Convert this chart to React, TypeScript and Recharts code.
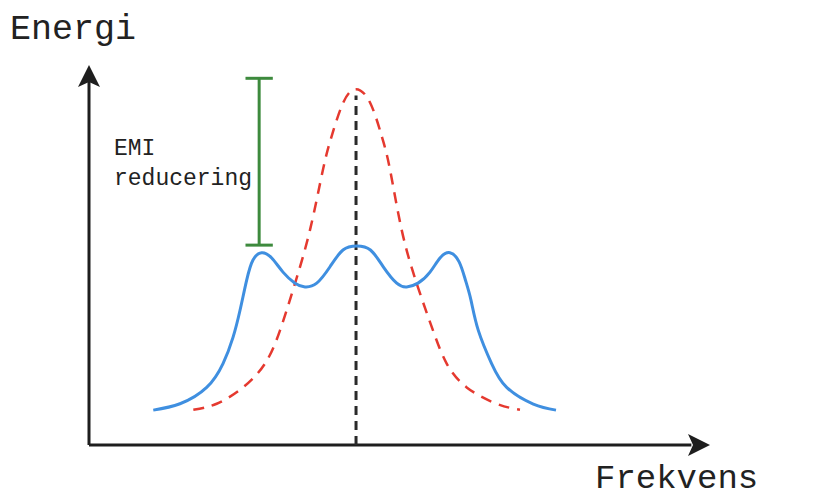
import React from "react";
import {
  LineChart,
  Line,
  XAxis,
  YAxis,
  ReferenceLine,
  ReferenceDot,
} from "recharts";

// Spectrum with spread-spectrum modulation (three humps)
const spreadSpectrum = [
  { x: 10.35, y: 9.18 },
  { x: 14.65, y: 10.85 },
  { x: 18.95, y: 15.16 },
  { x: 21.58, y: 21.43 },
  { x: 23.19, y: 28.31 },
  { x: 24.32, y: 35.45 },
  { x: 25.39, y: 43.39 },
  { x: 26.41, y: 48.68 },
  { x: 27.81, y: 50.61 },
  { x: 29.42, y: 49.21 },
  { x: 31.24, y: 45.5 },
  { x: 33.17, y: 42.59 },
  { x: 34.78, y: 41.61 },
  { x: 36.67, y: 42.59 },
  { x: 38.81, y: 46.9 },
  { x: 40.9, y: 51.32 },
  { x: 43.11, y: 52.38 },
  { x: 45.32, y: 51.32 },
  { x: 47.39, y: 46.9 },
  { x: 49.55, y: 42.59 },
  { x: 51.16, y: 41.61 },
  { x: 52.98, y: 42.59 },
  { x: 54.91, y: 45.5 },
  { x: 56.52, y: 49.21 },
  { x: 58.13, y: 50.61 },
  { x: 59.6, y: 48.2 },
  { x: 60.6, y: 43.5 },
  { x: 61.5, y: 38.2 },
  { x: 62.69, y: 30.16 },
  { x: 64.85, y: 21.35 },
  { x: 67.26, y: 15.16 },
  { x: 71.55, y: 10.77 },
  { x: 75.2, y: 9.18 },
];

// Unmodulated clock spectrum (single narrow peak)
const narrowPeak = [
  { x: 16.8, y: 9.26 },
  { x: 20.56, y: 10.85 },
  { x: 24.8, y: 15.16 },
  { x: 28.34, y: 21.43 },
  { x: 30.76, y: 30.16 },
  { x: 33.17, y: 42.51 },
  { x: 35.59, y: 56.61 },
  { x: 37.68, y: 72.49 },
  { x: 39.08, y: 81.3 },
  { x: 40.95, y: 90.13 },
  { x: 43.0, y: 93.65 },
  { x: 45.25, y: 90.13 },
  { x: 47.13, y: 81.3 },
  { x: 48.47, y: 72.49 },
  { x: 50.35, y: 56.61 },
  { x: 52.77, y: 42.51 },
  { x: 55.39, y: 30.16 },
  { x: 57.6, y: 21.43 },
  { x: 60.82, y: 15.16 },
  { x: 65.65, y: 10.85 },
  { x: 69.4, y: 9.26 },
];

const centerFreq = 43;
const centerLineTop = 92;

// EMI reduction bracket
const bracketX = 27.4;
const bracketTop = 96.5;
const bracketBottom = 52.6;
const bracketHalfCap = 2.2;

const axisLabels = { y: "Energi", x: "Frekvens" };
const bracketLabel = ["EMI", "reducering"];

const MONO = "'Courier New', 'Liberation Mono', monospace";
const AXIS_COLOR = "#1e1e1e";

const ArrowUp = (props: any) => {
  const { cx, cy } = props;
  return (
    <path
      d={`M ${cx} ${cy} L ${cx + 11} ${cy + 22} L ${cx} ${cy + 17} L ${cx - 11} ${cy + 22} Z`}
      fill={AXIS_COLOR}
    />
  );
};

const ArrowRight = (props: any) => {
  const { cx, cy } = props;
  return (
    <path
      d={`M ${cx} ${cy} L ${cx - 22} ${cy - 11} L ${cx - 17} ${cy} L ${cx - 22} ${cy + 11} Z`}
      fill={AXIS_COLOR}
    />
  );
};

export default function App() {
  return (
    <div style={{ position: "absolute", left: 0, top: 0, background: "#fff" }}>
      <LineChart
        width={824}
        height={500}
        margin={{ top: 65, right: 114, bottom: 55, left: 89 }}
      >
        <XAxis dataKey="x" type="number" domain={[0, 100]} hide />
        <YAxis dataKey="y" type="number" domain={[0, 100]} hide />

        {/* axes */}
        <ReferenceLine
          segment={[{ x: 0, y: 0 }, { x: 97, y: 0 }]}
          stroke={AXIS_COLOR}
          strokeWidth={3}
          ifOverflow="visible"
        />
        <ReferenceLine
          segment={[{ x: 0, y: 0 }, { x: 0, y: 96 }]}
          stroke={AXIS_COLOR}
          strokeWidth={3}
          ifOverflow="visible"
        />
        <ReferenceDot x={0} y={100} shape={ArrowUp} ifOverflow="visible" />
        <ReferenceDot x={100} y={0} shape={ArrowRight} ifOverflow="visible" />

        {/* centre frequency */}
        <ReferenceLine
          segment={[{ x: centerFreq, y: 0 }, { x: centerFreq, y: centerLineTop }]}
          stroke="#2a2a2a"
          strokeWidth={3}
          strokeDasharray="9 6"
          ifOverflow="visible"
        />

        {/* bracket */}
        <ReferenceLine
          segment={[{ x: bracketX, y: bracketBottom }, { x: bracketX, y: bracketTop }]}
          stroke="#3d8a3d"
          strokeWidth={3}
          ifOverflow="visible"
        />
        <ReferenceLine
          segment={[
            { x: bracketX - bracketHalfCap, y: bracketTop },
            { x: bracketX + bracketHalfCap, y: bracketTop },
          ]}
          stroke="#3d8a3d"
          strokeWidth={3}
          ifOverflow="visible"
        />
        <ReferenceLine
          segment={[
            { x: bracketX - bracketHalfCap, y: bracketBottom },
            { x: bracketX + bracketHalfCap, y: bracketBottom },
          ]}
          stroke="#3d8a3d"
          strokeWidth={3}
          ifOverflow="visible"
        />

        <Line
          data={narrowPeak}
          dataKey="y"
          type="natural"
          stroke="#e5392f"
          strokeWidth={2.5}
          strokeDasharray="11 8"
          dot={false}
          isAnimationActive={false}
        />
        <Line
          data={spreadSpectrum}
          dataKey="y"
          type="natural"
          stroke="#3f8fe0"
          strokeWidth={3}
          dot={false}
          isAnimationActive={false}
        />

        <text x={10} y={39} fontFamily={MONO} fontSize={35} fill="#222">
          {axisLabels.y}
        </text>
        <text x={595} y={488} fontFamily={MONO} fontSize={34} fill="#222">
          {axisLabels.x}
        </text>
        <text x={114} y={155} fontFamily={MONO} fontSize={23} fill="#222">
          {bracketLabel[0]}
        </text>
        <text x={114} y={185} fontFamily={MONO} fontSize={23} fill="#222">
          {bracketLabel[1]}
        </text>
      </LineChart>
    </div>
  );
}
